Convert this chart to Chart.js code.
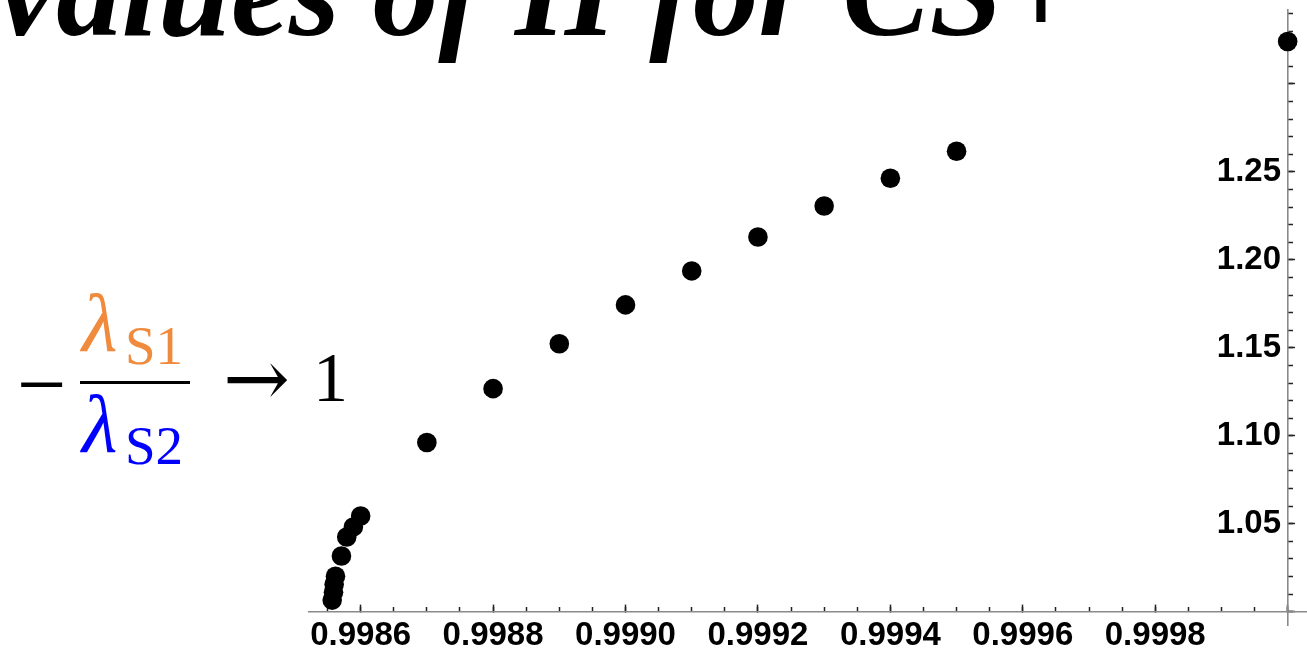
<!DOCTYPE html>
<html>
<head>
<meta charset="utf-8">
<script src="https://cdn.jsdelivr.net/npm/chart.js@4"></script>
<style>
  html, body { margin: 0; padding: 0; background: #fff; overflow: hidden; }
  #wrap { position: relative; width: 1307px; height: 653px; }
  #graph { position: absolute; left: 0; top: 0; }
  .txt { position: absolute; white-space: nowrap; line-height: 1; font-family: 'Liberation Serif', 'Times New Roman', serif; }
  #title { left: -2px; top: -75px; font-size: 131px; font-weight: bold; font-style: italic; color: #000; }
  .lam { font-style: italic; font-size: 82px; }
  .sub { font-size: 55px; }
  .s1 { color: #f08a3c; }
  .s2 { color: #0000ff; }
  #bar { position: absolute; left: 80px; top: 381px; width: 110px; height: 0; border-top: 3px solid #000; }
</style>
</head>
<body>
<div id="wrap">
  <canvas id="graph" width="1307" height="653"></canvas>
  <div class="txt" id="title">values of H for CS+</div>
  <div class="txt" style="left:17px; top:341px; font-size:88px;">−</div>
  <div class="txt lam s1" style="left:82px; top:283px;">λ</div>
  <div class="txt sub s1" style="left:125px; top:318px;">S1</div>
  <div id="bar"></div>
  <div class="txt lam s2" style="left:82px; top:384px;">λ</div>
  <div class="txt sub s2" style="left:125px; top:418px;">S2</div>
  <div class="txt" style="left:223px; top:339px; font-size:80px; font-family:'DejaVu Serif', serif;">→</div>
  <div class="txt" style="left:313px; top:343px; font-size:70px;">1</div>
</div>
<script>
// points
const xVals = [0.998557, 0.998559, 0.998560, 0.998562, 0.998571, 0.998579, 0.998589, 0.9986,
               0.9987, 0.9988, 0.9989, 0.9990, 0.9991, 0.9992, 0.9993, 0.9994, 0.9995, 1.0];
const yVals = [1.0066, 1.0111, 1.0156, 1.0202, 1.0317, 1.0425, 1.0482, 1.0544,
               1.0962, 1.1268, 1.1523, 1.1744, 1.1937, 1.2130, 1.2306, 1.2464, 1.2617, 1.3241];

const xTickLabels = ['0.9986', '0.9988', '0.9990', '0.9992', '0.9994', '0.9996', '0.9998'];
const yTickLabels = ['1.05', '1.10', '1.15', '1.20', '1.25'];

const xMin = 0.998522, xMax = 1.0000292;
const yMin = 0.99246, yMax = 1.34224;

const points = xVals.map((x, i) => ({ x: x, y: yVals[i] }));

const fontFamily = "'Liberation Sans', Arial, sans-serif";
const axisLine = { color: '#8a8a8a', width: 1.6 };

const ctx = document.getElementById('graph');

const chart = new Chart(ctx, {
  type: 'scatter',
  data: {
    datasets: [{
      data: points,
      backgroundColor: '#000',
      borderWidth: 0,
      pointRadius: 9.8,
      pointHoverRadius: 9.8,
      clip: false
    }]
  },
  options: {
    responsive: false,
    animation: false,
    layout: { autoPadding: false, padding: { left: 309, right: 0, top: 8, bottom: 28 } },
    plugins: {
      legend: { display: false },
      tooltip: { enabled: false }
    },
    scales: {
      x: {
        type: 'linear',
        min: xMin, max: xMax,
        position: { y: 1 },
        border: axisLine,
        grid: { drawOnChartArea: false, tickLength: -8, tickColor: '#222', tickWidth: 1.5 },
        ticks: {
          stepSize: 0.0002,
          includeBounds: false,
          autoSkip: false,
          maxRotation: 0, minRotation: 0,
          padding: 12,
          color: '#000',
          font: { family: fontFamily, size: 33, weight: 'bold' },
          callback: v => {
            const s = Number(v).toFixed(4);
            return xTickLabels.includes(s) ? s : '';
          }
        }
      },
      x2: {
        type: 'linear',
        min: xMin, max: xMax,
        position: { y: 1 },
        border: { display: false },
        grid: { drawOnChartArea: false, tickLength: -5, tickColor: '#222', tickWidth: 1.5 },
        ticks: { display: false, stepSize: 0.00005, includeBounds: false, autoSkip: false }
      },
      y: {
        type: 'linear',
        min: yMin, max: yMax,
        position: { x: 1 },
        border: axisLine,
        grid: { drawOnChartArea: false, tickLength: -8, tickColor: '#222', tickWidth: 1.5 },
        ticks: {
          stepSize: 0.05,
          includeBounds: false,
          autoSkip: false,
          color: '#000',
          font: { family: fontFamily, size: 33, weight: 'bold', lineHeight: 0.4 },
          callback: v => {
            const s = Number(v).toFixed(2);
            return yTickLabels.includes(s) ? s + '\u2009' : '';
          }
        }
      },
      y2: {
        type: 'linear',
        min: yMin, max: yMax,
        position: { x: 1 },
        border: { display: false },
        grid: { drawOnChartArea: false, tickLength: -5, tickColor: '#222', tickWidth: 1.5 },
        ticks: { display: false, stepSize: 0.01, includeBounds: false, autoSkip: false }
      }
    }
  }
});
</script>
</body>
</html>
